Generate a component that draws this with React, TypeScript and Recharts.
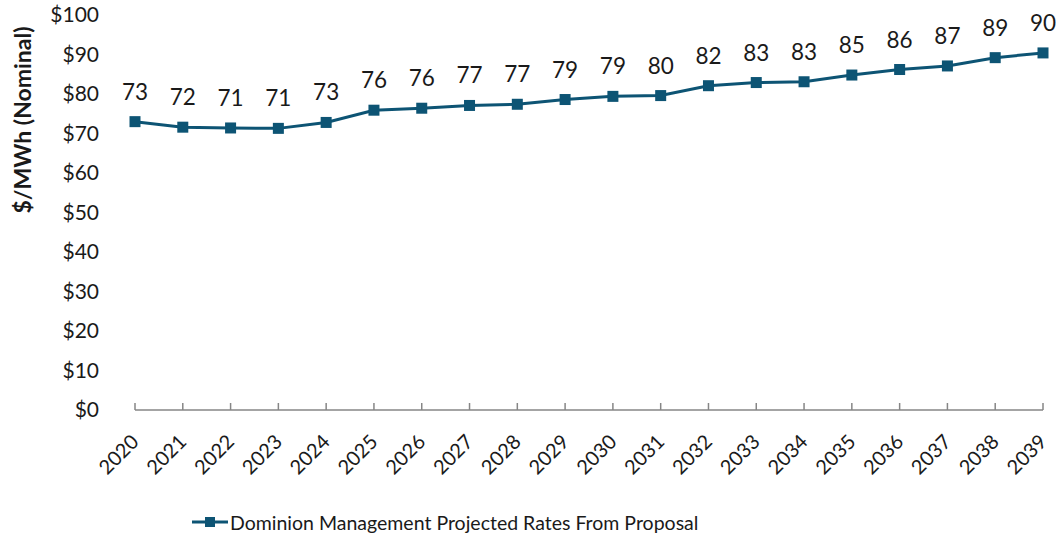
import React from "react";
import {
  LineChart,
  Line,
  XAxis,
  YAxis,
  Legend,
  LabelList,
} from "recharts";

const years = [
  "2020", "2021", "2022", "2023", "2024", "2025", "2026", "2027", "2028", "2029",
  "2030", "2031", "2032", "2033", "2034", "2035", "2036", "2037", "2038", "2039",
];
// $/MWh; labels show them rounded
const rates = [
  73.0, 71.6, 71.4, 71.3, 72.8, 75.9, 76.4, 77.1, 77.4, 78.6,
  79.4, 79.6, 82.1, 82.9, 83.1, 84.8, 86.2, 87.1, 89.2, 90.4,
];
const yTicks = [0, 10, 20, 30, 40, 50, 60, 70, 80, 90, 100];
const seriesName = "Dominion Management Projected Rates From Proposal";
const yTitle = "$/MWh (Nominal)";

const data = years.map((year, i) => ({ year, rate: rates[i] }));

const LINE = "#0d5474";
const AXIS = "#868686";
const TEXT = "#1a1a1a";
const FONT = "Lato, 'Open Sans', sans-serif";

const SquareDot = (props: any) => {
  const { cx, cy } = props;
  if (cx == null || cy == null) return null;
  return <rect x={cx - 5.5} y={cy - 5.5} width={11} height={11} fill={LINE} />;
};

const YearTick = (props: any) => {
  const { x, y, payload } = props;
  const ax = x + 5;
  const ay = y + 33;
  return (
    <g>
      <line x1={x} y1={y} x2={x} y2={y - 7} stroke={AXIS} strokeWidth={1.5} />
      <text
        x={ax}
        y={ay}
        textAnchor="end"
        fontSize={20}
        fontFamily={FONT}
        fill={TEXT}
        transform={`rotate(-45 ${ax} ${ay})`}
      >
        {payload.value}
      </text>
    </g>
  );
};

const YTitle = (props: any) => {
  const { viewBox } = props;
  const x = viewBox.x + 31;
  const y = 120;
  return (
    <text
      x={x}
      y={y}
      textAnchor="middle"
      fontSize={23}
      fontWeight={700}
      fontFamily={FONT}
      fill={TEXT}
      transform={`rotate(-90 ${x} ${y})`}
    >
      {yTitle}
    </text>
  );
};

const LegendContent = () => (
  <div style={{ display: "flex", alignItems: "center", fontFamily: FONT, fontSize: 19.5, color: TEXT }}>
    <svg width={36} height={14} style={{ marginRight: 2 }}>
      <line x1={0} y1={7} x2={36} y2={7} stroke={LINE} strokeWidth={3} />
      <rect x={13} y={2} width={10} height={10} fill={LINE} />
    </svg>
    <span>{seriesName}</span>
  </div>
);

export default function App() {
  return (
    <div style={{ position: "absolute", left: 0, top: 0, background: "#fff" }}>
      <LineChart
        width={1063}
        height={542}
        data={data}
        margin={{ top: 15, right: 20, left: 0, bottom: 0 }}
      >
        <XAxis
          dataKey="year"
          interval={0}
          height={92}
          tickSize={0}
          tickMargin={0}
          tick={<YearTick />}
          tickLine={false}
          axisLine={{ stroke: AXIS, strokeWidth: 1.5 }}
        />
        <YAxis
          domain={[0, 100]}
          ticks={yTicks}
          width={135}
          axisLine={false}
          tickLine={false}
          tickSize={0}
          tickMargin={36}
          tickFormatter={(v: number) => `$${v}`}
          tick={{ fill: TEXT, fontSize: 21, fontFamily: FONT }}
          label={<YTitle />}
        />
        <Legend
          verticalAlign="bottom"
          height={40}
          content={<LegendContent />}
          wrapperStyle={{ left: 192, bottom: 0, width: "auto", height: 40, display: "flex", alignItems: "center" }}
        />
        <Line
          type="linear"
          dataKey="rate"
          name={seriesName}
          stroke={LINE}
          strokeWidth={3}
          dot={<SquareDot />}
          activeDot={false}
          isAnimationActive={false}
        >
          <LabelList
            dataKey="rate"
            position="top"
            offset={22}
            formatter={(v: any) => Math.round(Number(v))}
            style={{ fill: TEXT, fontSize: 22.5, fontFamily: FONT }}
          />
        </Line>
      </LineChart>
    </div>
  );
}
